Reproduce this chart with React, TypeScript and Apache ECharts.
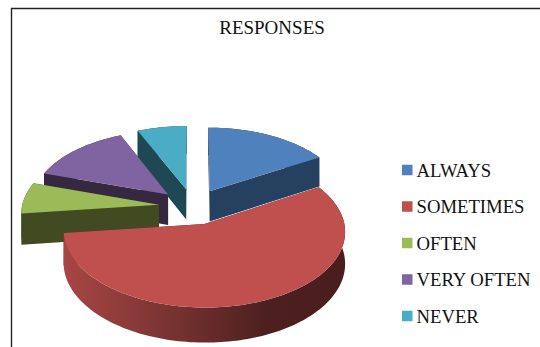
import React, { useEffect, useRef } from "react";
import * as echarts from "echarts";

const categories = ["ALWAYS", "SOMETIMES", "OFTEN", "VERY OFTEN", "NEVER"];
const shares = [16.5, 56.6, 6.9, 13.5, 6.5];
const topColors = ["#4f81bd", "#bf504d", "#9bbb59", "#8064a2", "#4bacc6"];
const cutColors = ["#26405f", "#5a2523", "#414a20", "#35283f", "#1e4853"];

// Perspective view of the disc: X runs right, Y runs away from the viewer, radius 1.
const VIEW = { cx: 193, cy: 206.5, ax: 137, ay: 72.2, k: 0.0939, depth: 31, explode: 0.25 };

const project = (x: number, y: number, drop = 0): number[] => {
  const w = 1 + VIEW.k * y;
  return [VIEW.cx + (VIEW.ax * x) / w, VIEW.cy - (VIEW.ay * y) / w + drop / w];
};

const total = shares.reduce((a, b) => a + b, 0);
const slices = shares.map((share, i) => {
  const before = shares.slice(0, i).reduce((a, b) => a + b, 0);
  const start = (before / total) * 2 * Math.PI;
  const end = ((before + share) / total) * 2 * Math.PI;
  const mid = (start + end) / 2;
  return {
    start,
    end,
    ox: VIEW.explode * Math.sin(mid),
    oy: VIEW.explode * Math.cos(mid),
    farness: Math.cos(mid),
  };
});

const shade = (hex: string, f: number): string => {
  const n = parseInt(hex.slice(1), 16);
  const c = [(n >> 16) & 255, (n >> 8) & 255, n & 255].map((v) => Math.round(v * f));
  return `rgb(${c[0]},${c[1]},${c[2]})`;
};

const renderSlice = (index: number) => (_params: unknown, api: any) => {
  const s = slices[index];
  const share = api.value(0) as number;
  const sweep = (share / total) * 2 * Math.PI;
  const steps = Math.max(8, Math.round(sweep * 40));
  const rim: number[][] = [];
  for (let n = 0; n <= steps; n++) {
    const t = s.start + (sweep * n) / steps;
    rim.push([s.ox + Math.sin(t), s.oy + Math.cos(t)]);
  }
  const top = rim.map((p) => project(p[0], p[1]));
  const bottom = rim.map((p) => project(p[0], p[1], VIEW.depth));
  const apexTop = project(s.ox, s.oy);
  const apexBottom = project(s.ox, s.oy, VIEW.depth);
  const base = topColors[index];
  const poly = (points: number[][], fill: unknown) => ({
    type: "polygon",
    silent: true,
    shape: { points },
    style: { fill, stroke: "none" },
  });
  const rimFill = new echarts.graphic.LinearGradient(0, 0, 1, 0, [
    { offset: 0, color: shade(base, 0.88) },
    { offset: 0.4, color: shade(base, 0.62) },
    { offset: 0.72, color: shade(base, 0.4) },
    { offset: 1, color: shade(base, 0.38) },
  ]);
  return {
    type: "group",
    children: [
      poly([apexTop, top[0], bottom[0], apexBottom], cutColors[index]),
      poly([apexTop, top[steps], bottom[steps], apexBottom], cutColors[index]),
      poly([...top, ...bottom.slice().reverse()], index === 1 ? rimFill : cutColors[index]),
      poly([apexTop, ...top], base),
    ],
  };
};

// Slices further from the viewer are painted first.
const paintOrder = categories
  .map((_, i) => i)
  .sort((a, b) => slices[b].farness - slices[a].farness);

export default function App() {
  const ref = useRef<HTMLDivElement>(null);
  useEffect(() => {
    if (!ref.current) return;
    const chart = echarts.init(ref.current, undefined, { renderer: "svg" });
    const serif = "'Liberation Serif', 'Times New Roman', serif";
    chart.setOption({
      animation: false,
      backgroundColor: "#ffffff",
      title: {
        text: "RESPONSES",
        left: 267,
        top: 13,
        textAlign: "center",
        textStyle: { fontFamily: serif, fontSize: 19, fontWeight: "normal", color: "#111111" },
      },
      legend: {
        orient: "vertical",
        left: 397,
        top: 155,
        icon: "rect",
        itemWidth: 10.5,
        itemHeight: 10.5,
        itemGap: 16.5,
        selectedMode: false,
        data: categories,
        textStyle: {
          fontFamily: serif,
          fontSize: 18.7,
          lineHeight: 20,
          color: "#111111",
          padding: [0, 0, 0, -1],
        },
      },
      graphic: [
        {
          type: "polyline",
          silent: true,
          shape: { points: [[540, 8.5], [11.5, 8.5], [11.5, 347]] },
          style: { fill: "none", stroke: "#222222", lineWidth: 1.4 },
        },
      ],
      series: paintOrder.map((i) => ({
        type: "custom",
        name: categories[i],
        coordinateSystem: "none",
        silent: true,
        itemStyle: { color: topColors[i] },
        data: [shares[i]],
        renderItem: renderSlice(i),
      })),
    });
    return () => chart.dispose();
  }, []);
  return <div ref={ref} style={{ position: "absolute", left: 0, top: 0, width: 540, height: 347 }} />;
}
